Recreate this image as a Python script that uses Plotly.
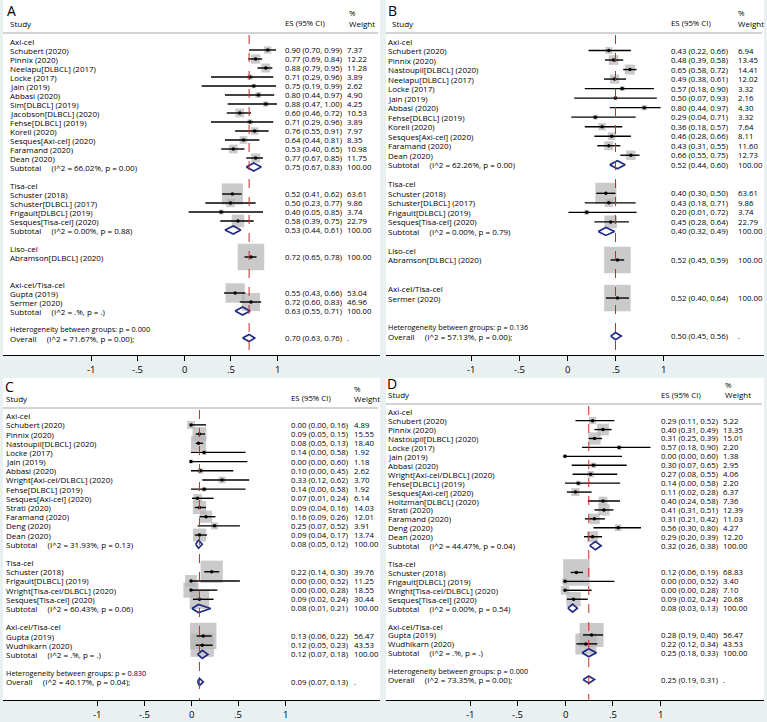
import math
import plotly.graph_objects as go

# ---------------- data ----------------
A_group = ["Axi-cel", "Tisa-cel", "Liso-cel", "Axi-cel/Tisa-cel"]
A_group_n = [13, 4, 1, 2]
A_study = ["Schubert (2020)", "Pinnix (2020)", "Neelapu[DLBCL] (2017)", "Locke (2017)", "Jain (2019)",
           "Abbasi (2020)", "Sim[DLBCL] (2019)", "Jacobson[DLBCL] (2020)", "Fehse[DLBCL] (2019)",
           "Korell (2020)", "Sesques[Axi-cel] (2020)", "Faramand (2020)", "Dean (2020)",
           "Schuster (2018)", "Schuster[DLBCL] (2017)", "Frigault[DLBCL] (2019)", "Sesques[Tisa-cel] (2020)",
           "Abramson[DLBCL] (2020)",
           "Gupta (2019)", "Sermer (2020)"]
A_es = [0.90, 0.77, 0.88, 0.71, 0.75, 0.80, 0.88, 0.60, 0.71, 0.76, 0.64, 0.53, 0.77,
        0.52, 0.50, 0.40, 0.58, 0.72, 0.55, 0.72]
A_lci = [0.70, 0.69, 0.79, 0.29, 0.19, 0.44, 0.47, 0.46, 0.29, 0.55, 0.44, 0.40, 0.67,
         0.41, 0.23, 0.05, 0.39, 0.65, 0.43, 0.60]
A_uci = [0.99, 0.84, 0.95, 0.96, 0.99, 0.97, 1.00, 0.72, 0.96, 0.91, 0.81, 0.65, 0.85,
         0.62, 0.77, 0.85, 0.75, 0.78, 0.66, 0.83]
A_wt = [7.37, 12.22, 11.28, 3.89, 2.62, 4.90, 4.25, 10.53, 3.89, 7.97, 8.35, 10.98, 11.75,
        63.61, 9.86, 3.74, 22.79, 100.00, 53.04, 46.96]
A_sub_es = [0.75, 0.53, None, 0.63]
A_sub_lci = [0.67, 0.44, None, 0.55]
A_sub_uci = [0.83, 0.61, None, 0.71]
A_sub_i2 = ["66.02%", "0.00%", None, ".%"]
A_sub_p = ["0.00", "0.88", None, "."]
A_overall = [0.70, 0.63, 0.76]
A_overall_i2, A_overall_p, A_het_p = "71.67%", "0.00", "0.000"

B_group = ["Axi-cel", "Tisa-cel", "Liso-cel", "Axi-cel/Tisa-cel"]
B_group_n = [12, 4, 1, 1]
B_study = ["Schubert (2020)", "Pinnix (2020)", "Nastoupil[DLBCL] (2020)", "Neelapu[DLBCL] (2017)",
           "Locke (2017)", "Jain (2019)", "Abbasi (2020)", "Fehse[DLBCL] (2019)", "Korell (2020)",
           "Sesques[Axi-cel] (2020)", "Faramand (2020)", "Dean (2020)",
           "Schuster (2018)", "Schuster[DLBCL] (2017)", "Frigault[DLBCL] (2019)", "Sesques[Tisa-cel] (2020)",
           "Abramson[DLBCL] (2020)",
           "Sermer (2020)"]
B_es = [0.43, 0.48, 0.65, 0.49, 0.57, 0.50, 0.80, 0.29, 0.36, 0.46, 0.43, 0.66,
        0.40, 0.43, 0.20, 0.45, 0.52, 0.52]
B_lci = [0.22, 0.39, 0.58, 0.38, 0.18, 0.07, 0.44, 0.04, 0.18, 0.28, 0.31, 0.55,
         0.30, 0.18, 0.01, 0.28, 0.45, 0.40]
B_uci = [0.66, 0.58, 0.72, 0.61, 0.90, 0.93, 0.97, 0.71, 0.57, 0.66, 0.55, 0.75,
         0.50, 0.71, 0.72, 0.64, 0.59, 0.64]
B_wt = [6.94, 13.45, 14.41, 12.02, 3.32, 2.16, 4.30, 3.32, 7.64, 8.11, 11.60, 12.73,
        63.61, 9.86, 3.74, 22.79, 100.00, 100.00]
B_sub_es = [0.52, 0.40, None, None]
B_sub_lci = [0.44, 0.32, None, None]
B_sub_uci = [0.60, 0.49, None, None]
B_sub_i2 = ["62.26%", "0.00%", None, None]
B_sub_p = ["0.00", "0.79", None, None]
B_overall = [0.50, 0.45, 0.56]
B_overall_i2, B_overall_p, B_het_p = "57.13%", "0.00", "0.136"

C_group = ["Axi-cel", "Tisa-cel", "Axi-cel/Tisa-cel"]
C_group_n = [13, 4, 2]
C_study = ["Schubert (2020)", "Pinnix (2020)", "Nastoupil[DLBCL] (2020)", "Locke (2017)", "Jain (2019)",
           "Abbasi (2020)", "Wright[Axi-cel/DLBCL] (2020)", "Fehse[DLBCL] (2019)", "Sesques[Axi-cel] (2020)",
           "Strati (2020)", "Faramand (2020)", "Deng (2020)", "Dean (2020)",
           "Schuster (2018)", "Frigault[DLBCL] (2019)", "Wright[Tisa-cel/DLBCL] (2020)", "Sesques[Tisa-cel] (2020)",
           "Gupta (2019)", "Wudhikarn (2020)"]
C_es = [0.00, 0.09, 0.08, 0.14, 0.00, 0.10, 0.33, 0.14, 0.07, 0.09, 0.16, 0.25, 0.09,
        0.22, 0.00, 0.00, 0.09, 0.13, 0.12]
C_lci = [0.00, 0.05, 0.05, 0.00, 0.00, 0.00, 0.12, 0.00, 0.01, 0.04, 0.09, 0.07, 0.04,
         0.14, 0.00, 0.00, 0.02, 0.06, 0.05]
C_uci = [0.16, 0.15, 0.13, 0.58, 0.60, 0.45, 0.62, 0.58, 0.24, 0.16, 0.26, 0.52, 0.17,
         0.30, 0.52, 0.28, 0.24, 0.22, 0.23]
C_wt = [4.89, 15.55, 18.40, 1.92, 1.18, 2.62, 3.70, 1.92, 6.14, 14.03, 12.01, 3.91, 13.74,
        39.76, 11.25, 18.55, 30.44, 56.47, 43.53]
C_sub_es = [0.08, 0.08, 0.12]
C_sub_lci = [0.05, 0.01, 0.07]
C_sub_uci = [0.12, 0.21, 0.18]
C_sub_i2 = ["31.93%", "60.43%", ".%"]
C_sub_p = ["0.13", "0.06", "."]
C_overall = [0.09, 0.07, 0.13]
C_overall_i2, C_overall_p, C_het_p = "40.17%", "0.04", "0.830"

D_group = ["Axi-cel", "Tisa-cel", "Axi-cel/Tisa-cel"]
D_group_n = [14, 4, 2]
D_study = ["Schubert (2020)", "Pinnix (2020)", "Nastoupil[DLBCL] (2020)", "Locke (2017)", "Jain (2019)",
           "Abbasi (2020)", "Wright[Axi-cel/DLBCL] (2020)", "Fehse[DLBCL] (2019)", "Sesques[Axi-cel] (2020)",
           "Holtzman[DLBCL] (2020)", "Strati (2020)", "Faramand (2020)", "Deng (2020)", "Dean (2020)",
           "Schuster (2018)", "Frigault[DLBCL] (2019)", "Wright[Tisa-cel/DLBCL] (2020)", "Sesques[Tisa-cel] (2020)",
           "Gupta (2019)", "Wudhikarn (2020)"]
D_es = [0.29, 0.40, 0.31, 0.57, 0.00, 0.30, 0.27, 0.14, 0.11, 0.40, 0.41, 0.31, 0.56, 0.29,
        0.12, 0.00, 0.00, 0.09, 0.28, 0.22]
D_lci = [0.11, 0.31, 0.25, 0.18, 0.00, 0.07, 0.08, 0.00, 0.02, 0.24, 0.31, 0.21, 0.30, 0.20,
         0.06, 0.00, 0.00, 0.02, 0.19, 0.12]
D_uci = [0.52, 0.49, 0.39, 0.90, 0.60, 0.65, 0.55, 0.58, 0.28, 0.58, 0.51, 0.42, 0.80, 0.39,
         0.19, 0.52, 0.28, 0.24, 0.40, 0.34]
D_wt = [5.22, 13.35, 15.01, 2.20, 1.38, 2.95, 4.06, 2.20, 6.37, 7.36, 12.39, 11.03, 4.27, 12.20,
        68.83, 3.40, 7.10, 20.68, 56.47, 43.53]
D_sub_es = [0.32, 0.08, 0.25]
D_sub_lci = [0.26, 0.03, 0.18]
D_sub_uci = [0.38, 0.13, 0.33]
D_sub_i2 = ["44.47%", "0.00%", ".%"]
D_sub_p = ["0.04", "0.54", "."]
D_overall = [0.25, 0.19, 0.31]
D_overall_i2, D_overall_p, D_het_p = "73.35%", "0.00", "0.000"

tick_vals = [-1, -0.5, 0, 0.5, 1]
tick_text = ["-1", "-.5", "0", ".5", "1"]

# ---------------- layout (pixel geometry of each panel) ----------------
W, H = 767, 722
FONT = "Open Sans"
FS = 8.0      # study / label text
FN = 7.8      # numeric columns
BOX = 26.5
BG = "#e9f0f2"
NAVY = "#1f2a85"
INK = "#000000"
GAP = "\u00a0" * 5

panels = [
    dict(letter="A", grp=A_group, n=A_group_n, study=A_study, es=A_es, lci=A_lci, uci=A_uci, wt=A_wt,
         ses=A_sub_es, slci=A_sub_lci, suci=A_sub_uci, si2=A_sub_i2, sp=A_sub_p,
         ov=A_overall, ovi2=A_overall_i2, ovp=A_overall_p, het=A_het_p,
         x0=3, x1=380, zero=184, unit=93, top=0, axis=355, row0=41, step=9.0,
         name_px=9, head_px=9, es_px=284, wt_px=346, wth_px=348,
         pct_y=13, head_y=23, line_y=33, let_xy=(6, 10)),
    dict(letter="B", grp=B_group, n=B_group_n, study=B_study, es=B_es, lci=B_lci, uci=B_uci, wt=B_wt,
         ses=B_sub_es, slci=B_sub_lci, suci=B_sub_uci, si2=B_sub_i2, sp=B_sub_p,
         ov=B_overall, ovi2=B_overall_i2, ovp=B_overall_p, het=B_het_p,
         x0=386, x1=764, zero=567.5, unit=96, top=0, axis=355, row0=41, step=9.52,
         name_px=386.5, head_px=391, es_px=670, wt_px=737, wth_px=737,
         pct_y=13, head_y=23, line_y=33, let_xy=(387, 10)),
    dict(letter="C", grp=C_group, n=C_group_n, study=C_study, es=C_es, lci=C_lci, uci=C_uci, wt=C_wt,
         ses=C_sub_es, slci=C_sub_lci, suci=C_sub_uci, si2=C_sub_i2, sp=C_sub_p,
         ov=C_overall, ovi2=C_overall_i2, ovp=C_overall_p, het=C_het_p,
         x0=3, x1=380, zero=191, unit=94, top=378, axis=700, row0=415.7, step=9.18,
         name_px=5, head_px=5, es_px=290, wt_px=352.5, wth_px=352.5,
         pct_y=389, head_y=398, line_y=408, let_xy=(4, 386)),
    dict(letter="D", grp=D_group, n=D_group_n, study=D_study, es=D_es, lci=D_lci, uci=D_uci, wt=D_wt,
         ses=D_sub_es, slci=D_sub_lci, suci=D_sub_uci, si2=D_sub_i2, sp=D_sub_p,
         ov=D_overall, ovi2=D_overall_i2, ovp=D_overall_p, het=D_het_p,
         x0=386, x1=764, zero=565, unit=95, top=378, axis=700, row0=411.7, step=8.93,
         name_px=386.5, head_px=387, es_px=660, wt_px=722, wth_px=724,
         pct_y=385, head_y=394.5, line_y=404, let_xy=(386, 383)),
]


def ci_txt(e, l, u):
    return f"{e:.2f} ({l:.2f}, {u:.2f})"


fig = go.Figure()
annots = []
shapes = []
lay = {}

for k, p in enumerate(panels):
    sfx = "" if k == 0 else str(k + 1)
    xa, ya = "x" + sfx, "y" + sfx

    def dx(px, p=p):
        return (px - p["zero"]) / p["unit"]

    def dy(py, p=p):
        return (py - p["row0"]) / p["step"]

    def txt(x, y, s, size=FS, xa=xa, ya=ya):
        annots.append(dict(x=x, y=y, xref=xa, yref=ya, text=s, showarrow=False,
                           xanchor="left", yanchor="middle", borderpad=0,
                           font=dict(family=FONT, size=size, color=INK)))

    # assign rows: group label, studies, subtotal (or blank), blank
    st_row, sub_rows, grp_rows = [], [], []
    i = 0
    for g, cnt in enumerate(p["n"]):
        grp_rows.append(i)
        i += 1
        for _ in range(cnt):
            st_row.append(i)
            i += 1
        sub_rows.append(i)
        i += 2
    het_row, ov_row = i, i + 1

    wmax = max(p["wt"])
    # boxes
    fig.add_trace(go.Scatter(
        x=p["es"], y=st_row, mode="markers", xaxis=xa, yaxis=ya, showlegend=False, hoverinfo="skip",
        marker=dict(symbol="square", color="#b3b3b3", line_width=0,
                    size=[BOX * math.sqrt(w / wmax) for w in p["wt"]])))
    # CI lines
    cx, cy = [], []
    for r, l, u in zip(st_row, p["lci"], p["uci"]):
        cx += [l, u, None]
        cy += [r, r, None]
    fig.add_trace(go.Scatter(x=cx, y=cy, mode="lines", xaxis=xa, yaxis=ya, showlegend=False,
                             hoverinfo="skip", line=dict(color="black", width=1.4)))
    fig.add_trace(go.Scatter(x=p["es"], y=st_row, mode="markers", xaxis=xa, yaxis=ya, showlegend=False,
                             hoverinfo="skip", marker=dict(color="black", size=3.5)))
    # diamonds
    dxs, dys = [], []
    hh = 4.0 / p["step"]
    for g in range(len(p["grp"])):
        if p["ses"][g] is None:
            continue
        r, e, l, u = sub_rows[g], p["ses"][g], p["slci"][g], p["suci"][g]
        dxs += [l, e, u, e, l, None]
        dys += [r, r - hh, r, r + hh, r, None]
    e, l, u = p["ov"]
    hh2 = 3.6 / p["step"]
    dxs += [l, e, u, e, l, None]
    dys += [ov_row, ov_row - hh2, ov_row, ov_row + hh2, ov_row, None]
    fig.add_trace(go.Scatter(x=dxs, y=dys, mode="lines", xaxis=xa, yaxis=ya, showlegend=False,
                             hoverinfo="skip", line=dict(color=NAVY, width=1.7)))

    # reference dashed line at overall estimate
    rng_y = [dy(p["axis"]), dy(p["top"])]
    shapes.append(dict(type="line", xref=xa, yref=ya, x0=p["ov"][0], x1=p["ov"][0],
                       y0=dy(p["line_y"] + 2), y1=rng_y[0],
                       line=dict(color="#c0302b", width=1, dash="dash")))
    # header rule
    shapes.append(dict(type="line", xref=xa, yref=ya, x0=dx(p["x0"]), x1=dx(p["x1"] - 2),
                       y0=dy(p["line_y"]), y1=dy(p["line_y"]), line=dict(color="#a8a8a8", width=1)))

    # texts
    annots.append(dict(x=dx(p["let_xy"][0]), y=dy(p["let_xy"][1]), xref=xa, yref=ya, text=p["letter"],
                       showarrow=False, xanchor="left", yanchor="middle", borderpad=0,
                       font=dict(family=FONT, size=14, color=INK)))
    txt(dx(p["head_px"]), dy(p["head_y"]), "Study")
    txt(dx(p["es_px"]), dy(p["head_y"]), "ES (95% CI)", FN)
    txt(dx(p["wth_px"]), dy(p["pct_y"]), "%", FN)
    txt(dx(p["wth_px"]), dy(p["head_y"]), "Weight")
    for g, name in enumerate(p["grp"]):
        txt(dx(p["name_px"]), grp_rows[g], name)
        if p["ses"][g] is not None:
            r = sub_rows[g]
            txt(dx(p["name_px"]), r, f"Subtotal{GAP}(I^2 = {p['si2'][g]}, p = {p['sp'][g]})")
            txt(dx(p["es_px"]), r, ci_txt(p["ses"][g], p["slci"][g], p["suci"][g]), FN)
            txt(dx(p["wt_px"]), r, "100.00", FN)
    for j, r in enumerate(st_row):
        txt(dx(p["name_px"]), r, p["study"][j])
        txt(dx(p["es_px"]), r, ci_txt(p["es"][j], p["lci"][j], p["uci"][j]), FN)
        txt(dx(p["wt_px"]), r, f"{p['wt'][j]:.2f}", FN)
    txt(dx(p["name_px"]), het_row, f"Heterogeneity between groups: p = {p['het']}", size=7.3)
    txt(dx(p["name_px"]), ov_row, f"Overall{GAP}(I^2 = {p['ovi2']}, p = {p['ovp']});")
    txt(dx(p["es_px"]), ov_row, ci_txt(*p["ov"]), FN)
    txt(dx(p["wt_px"]), ov_row, ".", FN)

    # tick labels close under the axis, as in the Stata output
    for tv, tt in zip(tick_vals, tick_text):
        annots.append(dict(x=tv, y=(H - p["axis"] - 14.5) / H, xref=xa, yref="paper", text=tt,
                           showarrow=False, xanchor="center", yanchor="middle", borderpad=0,
                           font=dict(family=FONT, size=9.5, color=INK)))

    lay["xaxis" + sfx] = dict(domain=[p["x0"] / W, p["x1"] / W], range=[dx(p["x0"]), dx(p["x1"])],
                              anchor=ya, showgrid=False, zeroline=False, showline=True,
                              linecolor="black", linewidth=1, ticks="outside", ticklen=5,
                              tickcolor="black", tickvals=tick_vals, showticklabels=False)
    lay["yaxis" + sfx] = dict(domain=[(H - p["axis"]) / H, (H - p["top"]) / H], range=rng_y,
                              anchor=xa, visible=False)

fig.update_layout(width=W, height=H, margin=dict(l=0, r=0, t=0, b=0), autosize=False,
                  paper_bgcolor=BG, plot_bgcolor="white", annotations=annots, shapes=shapes, **lay)
fig.write_html("out.html", config={"displayModeBar": False},
               post_script="document.body.style.margin='0px';")
